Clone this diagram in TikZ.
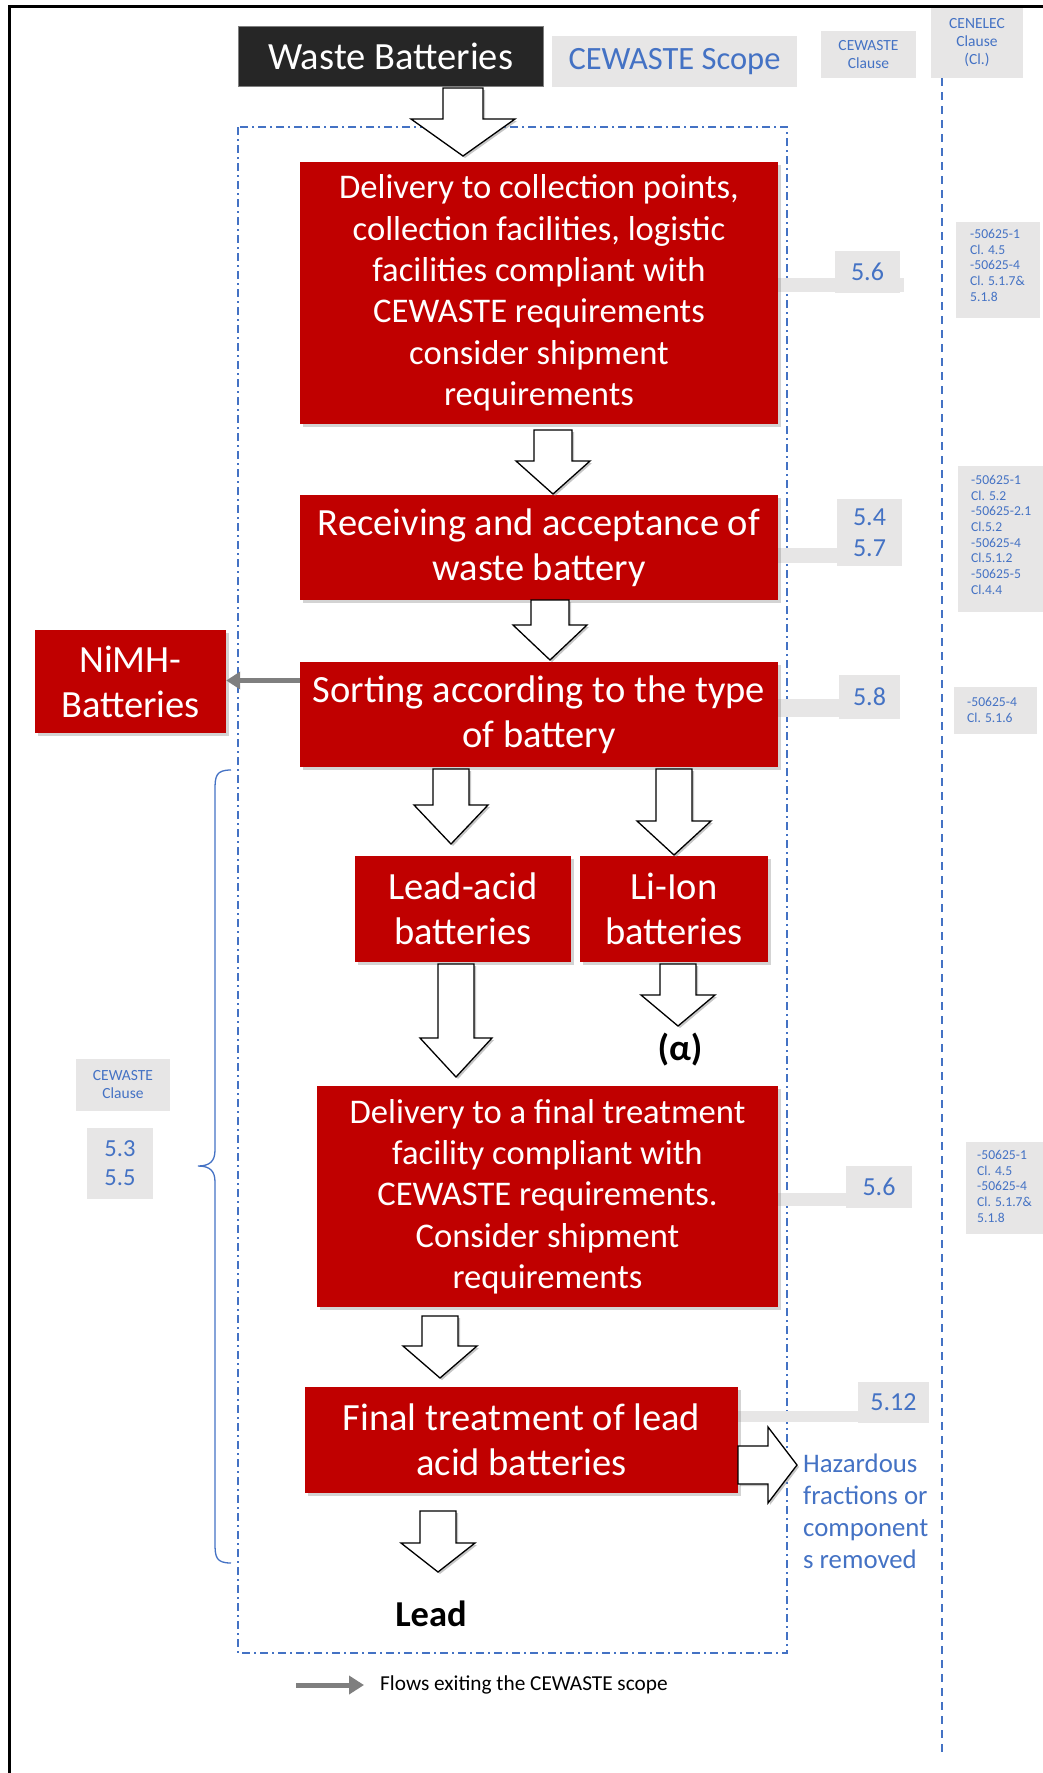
\documentclass[tikz,border=0pt]{standalone}
\usepackage{fontspec}
\setmainfont{Carlito}
\usetikzlibrary{shadows,arrows.meta}
\definecolor{boxred}{HTML}{C00000}
\definecolor{darkbox}{HTML}{262626}
\definecolor{clausegray}{HTML}{E7E6E6}
\definecolor{clauseblue}{HTML}{4472C4}
\definecolor{flowgray}{HTML}{7F7F7F}

% white block arrow pointing down: centre x, top y, head start y, tip y, shaft half width, head half width
\newcommand{\blockdown}[6]{%
  \draw[blockarrow] ({#1-#5},#2) -- ({#1+#5},#2) -- ({#1+#5},#3) -- ({#1+#6},#3)
    -- (#1,#4) -- ({#1-#6},#3) -- ({#1-#5},#3) -- cycle;}

\begin{document}
\begin{tikzpicture}[x=1pt,y=-1pt,
  redbox/.style={fill=boxred, text=white, align=center, inner sep=0pt,
    font=\fontsize{38.5}{45}\selectfont,
    drop shadow={opacity=0.35, shadow xshift=2.5pt, shadow yshift=-2.5pt}},
  tightlines/.style={font=\fontsize{34.6}{41.3}\selectfont},
  blockarrow/.style={draw=black, line width=1.3pt, fill=white, line join=miter,
    drop shadow={opacity=0.45, shadow xshift=2pt, shadow yshift=-2pt}},
  numbox/.style={fill=clausegray, text=clauseblue, align=center, inner sep=0pt,
    font=\fontsize{26}{31}\selectfont},
  headbox/.style={fill=clausegray, text=clauseblue, align=center, inner sep=0pt,
    font=\fontsize{15.5}{18}\selectfont},
  refbox/.style={fill=clausegray, text=clauseblue, align=left, anchor=north west,
    inner sep=0pt, font=\fontsize{13.6}{15.7}\selectfont},
  flow/.style={draw=flowgray, line width=5pt, -{Triangle[length=14pt,width=17pt]}},
  scopeline/.style={draw=clauseblue, line width=1.5pt,
    dash pattern=on 8pt off 4pt on 2pt off 4pt},
]
\useasboundingbox (0,0) rectangle (1043,1773);

% outer frame
\draw[line width=3pt] (9,1800) -- (9,6) -- (1060,6);

% CEWASTE scope frame
\draw[scopeline] (238,127) rectangle (787,1653);

% CENELEC column divider
\draw[clauseblue, line width=2pt, dash pattern=on 8pt off 6pt] (942,78) -- (942,1756);

% header
\node[fill=darkbox, draw=flowgray, line width=0.8pt, text=white, inner sep=0pt,
  minimum width=305, minimum height=60, font=\fontsize{38.5}{45}\selectfont]
  (waste) at (390.5,56) {Waste Batteries};
\node[fill=clausegray, text=clauseblue, inner sep=0pt, minimum width=245, minimum height=51,
  font=\fontsize{32.5}{38}\selectfont] (scope) at (674.5,61.5) {CEWASTE Scope};
\node[headbox, minimum width=95, minimum height=47] (cewhead) at (868.5,54.5) {CEWASTE\\Clause};
\node[headbox, minimum width=92, minimum height=70] (cenhead) at (977,43) {CENELEC\\Clause\\(Cl.)};

% grey clause tabs with their bars
\fill[clausegray] (778,278) rectangle (904,292);
\node[numbox, minimum width=65, minimum height=42] (c1) at (867.5,272) {5.6};
\fill[clausegray] (778,548) rectangle (902,563);
\node[numbox, minimum width=65, minimum height=67] (c2) at (869.5,532.5) {5.4\\5.7};
\fill[clausegray] (778,699) rectangle (845,717);
\node[numbox, minimum width=61, minimum height=44] (c3) at (869.5,697) {5.8};
\fill[clausegray] (778,1193) rectangle (912,1206);
\node[numbox, minimum width=66, minimum height=42] (c4) at (879,1187) {5.6};
\fill[clausegray] (738,1411) rectangle (860,1422);
\node[numbox, minimum width=71, minimum height=41] (c5) at (893.5,1402.5) {5.12};

% CENELEC references
\fill[clausegray] (956,222) rectangle (1040,318);
\node[refbox] (r1) at (970,229) {-50625-1\\Cl. 4.5\\-50625-4\\Cl. 5.1.7\&\\5.1.8};
\fill[clausegray] (958,466) rectangle (1043,612);
\node[refbox] (r2) at (971,475) {-50625-1\\Cl. 5.2\\-50625-2.1\\Cl.5.2\\-50625-4\\Cl.5.1.2\\-50625-5\\Cl.4.4};
\fill[clausegray] (954,687) rectangle (1037,734);
\node[refbox] (r3) at (967,697) {-50625-4\\Cl. 5.1.6};
\fill[clausegray] (966,1142) rectangle (1045,1234);
\node[refbox] (r4) at (977,1150) {-50625-1\\Cl. 4.5\\-50625-4\\Cl. 5.1.7\&\\5.1.8};

% left clause tabs
\node[headbox, minimum width=94, minimum height=52] (lhead) at (123,1085) {CEWASTE\\Clause};
\node[fill=clausegray, text=clauseblue, align=center, inner sep=0pt, minimum width=66,
  minimum height=71, font=\fontsize{24.5}{29}\selectfont] (lnum) at (120,1163.5) {5.3\\5.5};

% brace grouping the lead-acid branch
\coordinate (btop) at (231,770);
\coordinate (btip) at (198,1166);
\coordinate (bbot) at (231,1563);
\draw[clauseblue, line width=1.3pt] (btop) .. controls (216,770) and (215,776) .. (215,790)
  -- (215,1150) .. controls (215,1161) and (210,1166) .. (btip)
  .. controls (210,1166) and (215,1171) .. (215,1182)
  -- (215,1543) .. controls (215,1557) and (216,1563) .. (bbot);

% process boxes
\node[redbox, tightlines, minimum width=478, minimum height=262] (deliv) at (539,293)
  {Delivery to collection points,\\collection facilities, logistic\\facilities compliant with\\CEWASTE requirements\\consider shipment\\requirements};
\node[redbox, minimum width=478, minimum height=105] (recv) at (539,547.5)
  {Receiving and acceptance of\\waste battery};
\node[redbox, minimum width=478, minimum height=105] (sort) at (539,714.5)
  {Sorting according to the type\\of battery};
\node[redbox, minimum width=191, minimum height=103] (nimh) at (130.5,681.5)
  {NiMH-\\Batteries};
\node[redbox, minimum width=216, minimum height=106] (lead) at (463,909)
  {Lead-acid\\batteries};
\node[redbox, minimum width=188, minimum height=106] (liion) at (674,909)
  {Li-Ion\\batteries};
\node[redbox, tightlines, minimum width=461, minimum height=221] (final) at (547.5,1196.5)
  {Delivery to a final treatment\\facility compliant with\\CEWASTE requirements.\\Consider shipment\\requirements};
\node[redbox, minimum width=433, minimum height=106] (treat) at (521.5,1440)
  {Final treatment of lead\\acid batteries};

% block arrows between the steps
\blockdown{463}{88}{119}{156}{20}{52}
\blockdown{553}{430}{461}{494}{19}{37}
\blockdown{550}{600}{625}{660}{19}{37}
\blockdown{451}{769}{805}{844}{18}{37}
\blockdown{674}{769}{821}{855}{18}{37}
\blockdown{456}{964}{1038}{1077}{18}{36}
\blockdown{678}{964}{995}{1026}{18}{37}
\blockdown{440}{1316}{1346}{1378}{18}{37}
\blockdown{438}{1511}{1543}{1572}{18}{37}
\draw[blockarrow] (738,1446) -- (768,1446) -- (768,1427) -- (797,1465)
  -- (768,1503) -- (768,1484) -- (738,1484) -- cycle;

% outputs
\node[font=\bfseries\fontsize{37}{45}\selectfont] (alpha) at (680,1050) {(α)};
\node[font=\bfseries\fontsize{36.5}{42}\selectfont] (leadout) at (431,1614) {Lead};
\node[anchor=north west, align=left, inner sep=0pt, text=clauseblue,
  font=\fontsize{26.8}{32}\selectfont] (haz) at (803,1454)
  {Hazardous\\fractions or\\component\\s removed};

% flow leaving the scope
\draw[flow] ([yshift=34pt]sort.west) -- ([yshift=34pt]sort.west -| nimh.east);

% legend
\coordinate (legstart) at (296,1685);
\node[anchor=west, inner sep=0pt, font=\fontsize{21.3}{25}\selectfont] (legtext) at (380,1685)
  {Flows exiting the CEWASTE scope};
\draw[flow, -{Triangle[length=15pt,width=18pt]}] (legstart) -- ([xshift=-16pt]legtext.west);
\end{tikzpicture}
\end{document}
